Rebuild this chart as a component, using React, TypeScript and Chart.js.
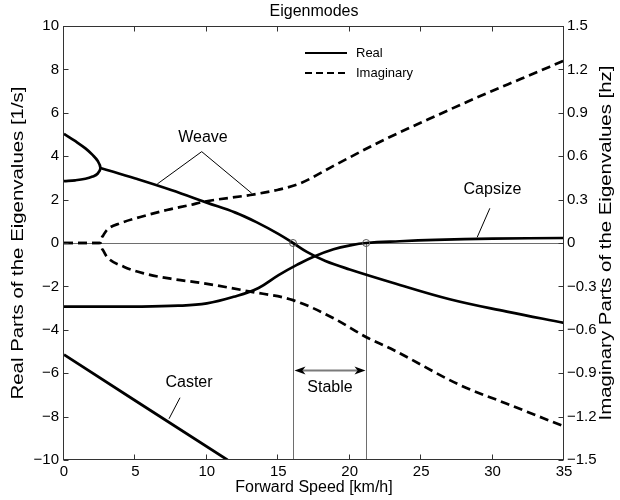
import { useEffect, useRef } from 'react';
import { Chart, registerables } from 'chart.js';

Chart.register(...registerables);

// Axis ticks
const speedTicks = [0, 5, 10, 15, 20, 25, 30, 35];
const realTicks = [-10, -8, -6, -4, -2, 0, 2, 4, 6, 8, 10];
const imagTicks = [-1.5, -1.2, -0.9, -0.6, -0.3, 0, 0.3, 0.6, 0.9, 1.2, 1.5];

// Weave, real parts below the bifurcation speed (two real roots that merge)
const weaveLoopSpeed = [0, 0.8, 1.5, 2.0, 2.35, 2.55, 2.35, 2.0, 1.5, 0.8, 0];
const weaveLoopReal = [5.03, 4.69, 4.36, 4.06, 3.79, 3.46, 3.19, 3.06, 2.96, 2.89, 2.85];

// Weave, real part of the oscillatory pair
const weaveSpeed = [2.55, 5, 7.5, 10, 12, 13.5, 15, 16.03, 17, 18.3, 20, 23, 27, 31, 35];
const weaveReal = [3.46, 2.97, 2.44, 1.86, 1.4, 0.95, 0.42, 0, -0.41, -0.83, -1.22, -1.83, -2.59, -3.16, -3.68];

// Capsize mode
const capsizeSpeed = [0, 5, 8, 10, 11.87, 13.62, 15.02, 16.3, 17.47, 18.87, 20.03, 21.15, 23.5, 26, 30, 35];
const capsizeReal = [-2.93, -2.93, -2.89, -2.78, -2.48, -2.07, -1.48, -1.01, -0.63, -0.29, -0.11, 0, 0.08, 0.14, 0.2, 0.23];

// Caster mode
const casterSpeed = [0, 5, 11.45];
const casterReal = [-5.15, -7.27, -10];

// Weave, imaginary parts [Hz]
const imagUpperSpeed = [0, 2.55, 2.62, 2.75, 3.0, 3.95, 5.35, 7.2, 8.85, 9.78, 13.04, 15, 16.54, 19, 22.13, 25.5, 29.1, 32, 35];
const imagUpperHz = [0, 0, 0.03, 0.053, 0.09, 0.137, 0.18, 0.228, 0.263, 0.285, 0.332, 0.368, 0.413, 0.54, 0.7, 0.855, 1.014, 1.135, 1.26];
const imagLowerSpeed = [0, 2.55, 2.62, 2.75, 3.0, 4.18, 5.58, 7.68, 9.55, 13.04, 16.03, 18.87, 21.2, 22.83, 27.7, 31, 35];
const imagLowerHz = [0, 0, -0.03, -0.053, -0.095, -0.164, -0.21, -0.25, -0.275, -0.336, -0.395, -0.52, -0.653, -0.728, -0.981, -1.111, -1.268];

// Stability boundaries [km/h]
const weaveCriticalSpeed = 16.03;
const capsizeCriticalSpeed = 21.15;

const FONT = '"Liberation Sans", Arial, Helvetica, sans-serif';
const INK = '#000000';
const FRAME = '#333333';
const GUIDE = '#6e6e6e';

const pts = (xs: number[], ys: number[]) => xs.map((x, i) => ({ x, y: ys[i] }));

const fmt = (v: number, digits: number) => {
  if (Math.abs(v) < 1e-9) return '0';
  const s = Math.abs(v).toFixed(digits);
  return v < 0 ? '\u2212' + s : s;
};

const seg = (ctx: CanvasRenderingContext2D, x1: number, y1: number, x2: number, y2: number) => {
  ctx.beginPath();
  ctx.moveTo(x1, y1);
  ctx.lineTo(x2, y2);
  ctx.stroke();
};

const crisp = (v: number) => Math.round(v) + 0.5;

// vertical axis title, reading bottom to top, slightly elongated
const sideTitle = (ctx: CanvasRenderingContext2D, text: string, x: number, y: number) => {
  ctx.save();
  ctx.translate(x, y);
  ctx.rotate(-Math.PI / 2);
  ctx.scale(1.2, 1);
  ctx.fillText(text, 0, 0);
  ctx.restore();
};

const decor = {
  id: 'decor',
  beforeDatasetsDraw(chart: any) {
    const { ctx, chartArea: a, scales } = chart;
    const sx = scales.x;
    const sy = scales.y;
    const y0 = crisp(sy.getPixelForValue(0));
    ctx.save();
    ctx.strokeStyle = GUIDE;
    ctx.lineWidth = 1;
    seg(ctx, a.left, y0, a.right, y0);
    const xa = crisp(sx.getPixelForValue(weaveCriticalSpeed));
    const xb = crisp(sx.getPixelForValue(capsizeCriticalSpeed));
    seg(ctx, xa, y0, xa, a.bottom);
    seg(ctx, xb, y0, xb, a.bottom);

    // double arrow across the stable speed range
    const ya = crisp(sy.getPixelForValue(-5.85));
    const head = 11;
    const half = 4;
    ctx.strokeStyle = '#7a7a7a';
    ctx.lineWidth = 2;
    seg(ctx, xa + head - 2, ya, xb - head + 2, ya);
    ctx.fillStyle = INK;
    ctx.beginPath();
    ctx.moveTo(xa + 1, ya);
    ctx.lineTo(xa + 1 + head, ya - half);
    ctx.lineTo(xa + 1 + head - 3, ya);
    ctx.lineTo(xa + 1 + head, ya + half);
    ctx.closePath();
    ctx.fill();
    ctx.beginPath();
    ctx.moveTo(xb - 1, ya);
    ctx.lineTo(xb - 1 - head, ya - half);
    ctx.lineTo(xb - 1 - head + 3, ya);
    ctx.lineTo(xb - 1 - head, ya + half);
    ctx.closePath();
    ctx.fill();

    ctx.fillStyle = INK;
    ctx.font = `16px ${FONT}`;
    ctx.textAlign = 'center';
    ctx.textBaseline = 'middle';
    ctx.fillText('Stable', (xa + xb) / 2, sy.getPixelForValue(-6.65));
    ctx.restore();
  },
  afterDatasetsDraw(chart: any) {
    const { ctx, chartArea: a, scales } = chart;
    const sx = scales.x;
    const sy = scales.y;
    const s2 = scales.y2;
    ctx.save();

    // open markers where the modes cross zero
    const y0 = sy.getPixelForValue(0);
    ctx.strokeStyle = '#555555';
    ctx.lineWidth = 1;
    for (const s of [weaveCriticalSpeed, capsizeCriticalSpeed]) {
      ctx.beginPath();
      ctx.arc(sx.getPixelForValue(s), y0, 3.5, 0, Math.PI * 2);
      ctx.stroke();
    }

    // frame and inward ticks
    ctx.strokeStyle = FRAME;
    ctx.lineWidth = 1;
    const L = crisp(a.left) - 1;
    const R = crisp(a.right) - 1;
    const T = crisp(a.top);
    const B = crisp(a.bottom) - 1;
    ctx.strokeRect(L, T, R - L, B - T);
    const tk = 5;
    for (const v of speedTicks) {
      const px = crisp(sx.getPixelForValue(v)) - 1;
      seg(ctx, px, B, px, B - tk);
      seg(ctx, px, T, px, T + tk);
    }
    for (const v of realTicks) {
      const py = crisp(sy.getPixelForValue(v));
      seg(ctx, L, py, L + tk, py);
    }
    for (const v of imagTicks) {
      const py = crisp(s2.getPixelForValue(v));
      seg(ctx, R, py, R - tk, py);
    }

    // mode labels with leader lines
    ctx.fillStyle = INK;
    ctx.font = `16px ${FONT}`;
    ctx.textAlign = 'center';
    ctx.textBaseline = 'middle';
    ctx.lineWidth = 1;
    ctx.strokeStyle = INK;
    const P = (sp: number, re: number) => [sx.getPixelForValue(sp), sy.getPixelForValue(re)];

    const [wx, wy] = P(9.73, 4.84);
    ctx.fillText('Weave', wx, wy);
    const [ax, ay] = P(9.64, 4.21);
    const [lx, ly] = P(6.53, 2.72);
    const [rx, ry] = [sx.getPixelForValue(13.14), s2.getPixelForValue(0.344)];
    seg(ctx, ax, ay, lx, ly);
    seg(ctx, ax, ay, rx, ry);

    const [cx, cy] = P(8.75, -6.45);
    ctx.fillText('Caster', cx, cy);
    const [c1x, c1y] = P(8.12, -7.13);
    const [c2x, c2y] = P(7.35, -8.1);
    seg(ctx, c1x, c1y, c2x, c2y);

    const [kx, ky] = P(29.99, 2.44);
    ctx.fillText('Capsize', kx, ky);
    const [k1x, k1y] = P(29.81, 1.6);
    const [k2x, k2y] = P(28.92, 0.26);
    seg(ctx, k1x, k1y, k2x, k2y);

    // legend
    const lgX = a.left + 241;
    ctx.lineWidth = 2;
    ctx.strokeStyle = INK;
    seg(ctx, lgX, 53, lgX + 42, 53);
    ctx.setLineDash([7, 4]);
    seg(ctx, lgX, 73, lgX + 42, 73);
    ctx.setLineDash([]);
    ctx.font = `13px ${FONT}`;
    ctx.textAlign = 'left';
    ctx.fillText('Real', lgX + 51, 53);
    ctx.fillText('Imaginary', lgX + 51, 73);

    // title and axis titles
    const midX = (a.left + a.right) / 2;
    const midY = (a.top + a.bottom) / 2;
    ctx.textAlign = 'center';
    ctx.font = `16px ${FONT}`;
    ctx.fillText('Eigenmodes', midX, 12);
    ctx.fillText('Forward Speed [km/h]', midX, 488);

    ctx.font = `17px ${FONT}`;
    sideTitle(ctx, 'Real Parts of the Eigenvalues [1/s]', 18, midY);
    sideTitle(ctx, 'Imaginary Parts of the Eigenvalues [hz]', 606, midY);

    ctx.restore();
  },
};

const fixedTicks = (values: number[]) => (scale: any) => {
  scale.ticks = values.map((value) => ({ value }));
};

export default function App() {
  const ref = useRef<HTMLCanvasElement | null>(null);

  useEffect(() => {
    if (!ref.current) return;
    const solid = { borderColor: INK, borderWidth: 2.7, pointRadius: 0, fill: false };
    const dashed = { ...solid, borderDash: [9, 5] };
    const chart = new Chart(ref.current, {
      type: 'line',
      data: {
        datasets: [
          { ...solid, label: 'Weave (real, below bifurcation)', data: pts(weaveLoopSpeed, weaveLoopReal), tension: 0.4, yAxisID: 'y' },
          { ...solid, label: 'Weave (real)', data: pts(weaveSpeed, weaveReal), tension: 0.4, yAxisID: 'y' },
          { ...solid, label: 'Capsize', data: pts(capsizeSpeed, capsizeReal), tension: 0.4, yAxisID: 'y' },
          { ...solid, label: 'Caster', data: pts(casterSpeed, casterReal), yAxisID: 'y' },
          { ...dashed, label: 'Weave (imaginary +)', data: pts(imagUpperSpeed, imagUpperHz), cubicInterpolationMode: 'monotone', yAxisID: 'y2' },
          { ...dashed, label: 'Weave (imaginary \u2212)', data: pts(imagLowerSpeed, imagLowerHz), cubicInterpolationMode: 'monotone', yAxisID: 'y2' },
        ] as any,
      },
      options: {
        animation: false,
        responsive: false,
        parsing: false as any,
        layout: { padding: { top: 26, left: 0, right: 0, bottom: 0 } },
        plugins: { legend: { display: false }, tooltip: { enabled: false }, title: { display: false } },
        scales: {
          x: {
            type: 'linear',
            min: 0,
            max: 35,
            grid: { display: false, drawTicks: false },
            border: { display: false },
            afterBuildTicks: fixedTicks(speedTicks),
            afterFit: (s: any) => { s.height = 40; },
            ticks: { color: INK, font: { family: FONT, size: 15 }, padding: 3, maxRotation: 0, callback: (v: any) => fmt(Number(v), 0) },
          },
          y: {
            type: 'linear',
            position: 'left',
            min: -10,
            max: 10,
            grid: { display: false, drawTicks: false },
            border: { display: false },
            afterBuildTicks: fixedTicks(realTicks),
            afterFit: (s: any) => { s.width = 64; },
            ticks: { color: INK, font: { family: FONT, size: 15 }, padding: 5, callback: (v: any) => fmt(Number(v), 0) },
          },
          y2: {
            type: 'linear',
            position: 'right',
            min: -1.5,
            max: 1.5,
            grid: { display: false, drawTicks: false },
            border: { display: false },
            afterBuildTicks: fixedTicks(imagTicks),
            afterFit: (s: any) => { s.width = 56; },
            ticks: { color: INK, font: { family: FONT, size: 15 }, padding: 3, callback: (v: any) => fmt(Number(v), 1) },
          },
        },
      },
      plugins: [decor],
    });
    return () => chart.destroy();
  }, []);

  return (
    <div style={{ position: 'fixed', left: 0, top: 0, width: 620, height: 500, background: '#ffffff' }}>
      <canvas ref={ref} width={620} height={500} style={{ display: 'block' }} />
    </div>
  );
}
